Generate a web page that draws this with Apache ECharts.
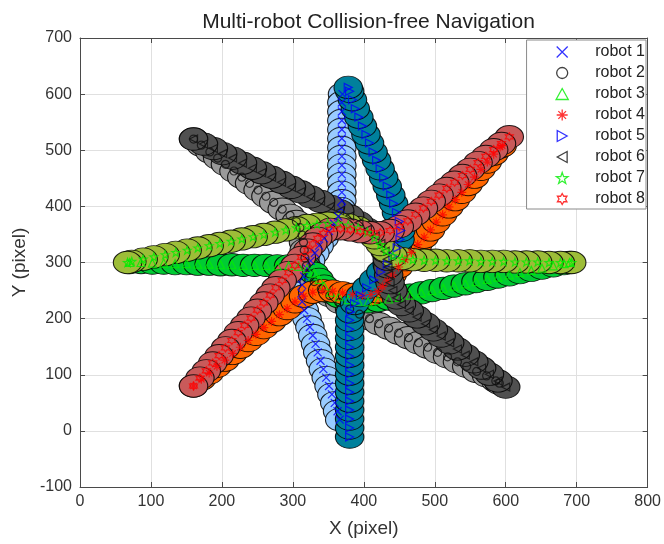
<!DOCTYPE html>
<html><head><meta charset="utf-8">
<script src="https://cdn.jsdelivr.net/npm/echarts@6/dist/echarts.min.js"></script>
<style>html,body{margin:0;padding:0;background:#fff}#c{width:664px;height:544px}</style>
</head><body><div id="c"></div>
<script>
const xTicks = [0, 100, 200, 300, 400, 500, 600, 700, 800];
const yTicks = [-100, 0, 100, 200, 300, 400, 500, 600, 700];
const robotNames = ['robot 1', 'robot 2', 'robot 3', 'robot 4', 'robot 5', 'robot 6', 'robot 7', 'robot 8'];
const robotRadius = 20;

const robot1 = [[370,600],[369,585],[369,569],[369,553],[369,537],[369,521],[369,505],[369,489],[369,473],[369,457],[369,441],[369,425],[369,410],[368,396],[364,382],[358,369],[351,356],[344,343],[337,330],[331,317],[325,303],[320,289],[316,275],[313,260],[312,245],[313,230],[316,215],[320,200],[324,185],[328,170],[332,155],[335,140],[339,125],[343,110],[347,95],[351,80],[355,65],[359,50],[363,35],[366,20]];
const robot2 = [[160,520],[171,509],[183,497],[194,486],[205,475],[217,463],[228,452],[239,441],[251,429],[262,418],[273,407],[285,395],[296,384],[305,373],[310,362],[313,349],[315,336],[316,322],[317,308],[319,294],[323,280],[330,266],[340,253],[352,241],[366,229],[380,217],[394,208],[408,200],[421,191],[435,183],[449,174],[463,166],[477,157],[490,149],[504,140],[518,132],[532,123],[545,115],[559,106],[573,98],[586,89],[591,85]];
const robot3 = [[70,300],[86,300],[102,299],[118,299],[134,298],[150,298],[166,297],[182,297],[198,296],[214,296],[230,295],[246,295],[262,295],[278,294],[294,294],[308,293],[320,289],[330,281],[337,270],[344,258],[353,247],[365,239],[378,234],[392,231],[406,230],[420,232],[435,235],[450,238],[465,242],[481,246],[496,250],[512,254],[527,258],[543,262],[558,266],[574,270],[589,274],[605,278],[620,282],[636,286],[651,290],[667,294],[682,298],[690,300]];
const robot4 = [[160,80],[171,92],[182,103],[193,115],[204,126],[215,138],[226,149],[237,161],[248,172],[259,184],[270,195],[281,207],[292,218],[303,230],[315,240],[328,247],[342,250],[356,249],[370,246],[384,243],[398,241],[410,243],[419,248],[426,257],[433,267],[440,278],[449,292],[458,305],[467,318],[476,332],[485,345],[494,358],[502,372],[511,385],[520,399],[529,412],[538,425],[547,439],[556,452],[565,466],[574,479],[583,493],[592,506],[595,508]];
const robot5 = [[380,-11],[380,5],[380,21],[380,37],[380,53],[380,69],[380,85],[380,101],[380,117],[380,133],[380,149],[380,165],[380,181],[380,197],[381,212],[387,227],[395,241],[404,255],[414,269],[424,283],[433,297],[441,311],[447,326],[451,341],[452,357],[450,373],[446,389],[442,405],[438,420],[433,436],[428,451],[423,467],[418,482],[413,497],[408,513],[403,528],[398,543],[393,559],[388,574],[384,590],[380,605],[378,612]];
const robot6 = [[600,78],[589,89],[577,101],[566,112],[555,123],[543,135],[532,146],[521,157],[509,169],[498,180],[487,191],[475,203],[464,214],[453,225],[446,237],[441,250],[437,264],[435,278],[434,292],[433,306],[430,320],[424,334],[416,347],[405,359],[393,371],[380,383],[366,392],[353,400],[339,409],[325,417],[311,426],[298,434],[284,443],[270,452],[256,460],[243,468],[229,477],[215,486],[201,494],[188,503],[174,511],[160,520]];
const robot7 = [[693,300],[677,300],[661,300],[645,301],[629,301],[613,301],[597,302],[581,302],[565,302],[549,303],[533,303],[517,303],[501,304],[485,304],[469,305],[454,307],[441,312],[431,321],[423,332],[415,344],[405,354],[392,362],[378,367],[364,370],[349,370],[334,368],[320,366],[305,362],[290,358],[275,354],[259,350],[244,346],[228,342],[213,338],[197,334],[182,330],[166,326],[151,322],[135,318],[120,314],[104,310],[89,306],[73,302],[67,300]];
const robot8 = [[605,524],[594,512],[583,501],[572,489],[561,478],[550,466],[539,455],[528,443],[517,432],[506,420],[495,409],[484,397],[473,386],[462,374],[450,364],[437,357],[423,353],[409,353],[395,355],[381,358],[367,360],[353,359],[343,352],[335,343],[328,333],[321,322],[312,309],[303,295],[294,282],[285,268],[276,255],[268,242],[259,228],[250,215],[241,201],[232,188],[223,175],[214,161],[205,148],[196,134],[187,121],[178,107],[169,94],[160,80]];
const robotPaths = [robot1, robot2, robot3, robot4, robot5, robot6, robot7, robot8];

const bodyColors = ['#99ccff', '#9a9a9a', '#00cc33', '#ff6600', '#00809c', '#505050', '#9dbd38', '#c95a5a'];
const markerColors = ['#0000ff', '#111111', '#00ee00', '#ff0000', '#0000ff', '#111111', '#00ee00', '#ff0000'];
const markerSymbols = [
  'path://M0,0L10,10M10,0L0,10',
  'circle',
  'path://M5,0L10,9L0,9Z',
  'path://M5,0L5,10M0,5L10,5M1.5,1.5L8.5,8.5M8.5,1.5L1.5,8.5',
  'path://M0,0L9,5L0,10Z',
  'path://M9,0L0,5L9,10Z',
  'path://M5,0L6.18,3.38L9.76,3.45L6.9,5.62L7.94,9.05L5,7L2.06,9.05L3.1,5.62L0.24,3.45L3.82,3.38Z',
  'path://M5,0L6.44,2.5L9.33,2.5L7.89,5L9.33,7.5L6.44,7.5L5,10L3.56,7.5L0.67,7.5L2.11,5L0.67,2.5L3.56,2.5Z'
];
const markerSizes = [8, 8, 8, 9, 8, 8, 8, 8];

const FONT = '"Liberation Sans", Arial, Helvetica, sans-serif';
const W = 664, H = 544;
const gridL = 80, gridR = 15, gridT = 38, gridB = 57;
const plotW = W - gridL - gridR, plotH = H - gridT - gridB;
const xMin = xTicks[0], xMax = xTicks[xTicks.length - 1];
const yMin = yTicks[0], yMax = yTicks[yTicks.length - 1];
const sx = plotW / (xMax - xMin), sy = plotH / (yMax - yMin);
const bodySize = [2 * robotRadius * sx, 2 * robotRadius * sy];

const axisColor = '#4a4a4a';
function mkX(pos, main) {
  return {
    type: 'value', min: xMin, max: xMax, interval: xTicks[1] - xTicks[0], position: pos,
    axisLine: { show: true, onZero: false, lineStyle: { color: axisColor, width: 1 } },
    axisTick: { show: true, inside: true, length: 5, lineStyle: { color: axisColor } },
    axisLabel: { show: main, color: '#333', fontSize: 16, margin: 7, fontFamily: FONT },
    splitLine: { show: main, lineStyle: { color: '#e0e0e0', width: 1 } },
    name: main ? 'X (pixel)' : '', nameLocation: 'middle', nameGap: 32,
    nameTextStyle: { fontSize: 19, color: '#333', fontFamily: FONT }
  };
}
function mkY(pos, main) {
  return {
    type: 'value', min: yMin, max: yMax, interval: yTicks[1] - yTicks[0], position: pos,
    axisLine: { show: true, onZero: false, lineStyle: { color: axisColor, width: 1 } },
    axisTick: { show: true, inside: true, length: 5, lineStyle: { color: axisColor } },
    axisLabel: { show: main, color: '#333', fontSize: 16, margin: 8, fontFamily: FONT },
    splitLine: { show: main, lineStyle: { color: '#e0e0e0', width: 1 } },
    name: main ? 'Y (pixel)' : '', nameLocation: 'middle', nameGap: 45, nameRotate: 90,
    nameTextStyle: { fontSize: 19, color: '#333', fontFamily: FONT }
  };
}

const series = [];
robotPaths.forEach((p, i) => {
  series.push({
    type: 'scatter', name: robotNames[i] + ' body', data: p, symbol: 'circle', symbolSize: bodySize,
    xAxisIndex: 0, yAxisIndex: 0, z: 2, silent: true,
    itemStyle: { color: bodyColors[i], borderColor: 'rgba(0,0,0,0.85)', borderWidth: 1, opacity: 1 }
  });
});
robotPaths.forEach((p, i) => {
  series.push({
    type: 'scatter', name: robotNames[i], data: p, symbol: markerSymbols[i], symbolSize: markerSizes[i],
    xAxisIndex: 0, yAxisIndex: 0, z: 3, silent: true,
    itemStyle: { color: 'none', borderColor: markerColors[i], borderWidth: 1.2 }
  });
});

const chart = echarts.init(document.getElementById('c'), null, { renderer: 'canvas', width: W, height: H });
chart.setOption({
  animation: false,
  backgroundColor: '#fff',
  title: {
    text: 'Multi-robot Collision-free Navigation', left: gridL + plotW / 2 - 1, textAlign: 'center', top: 7,
    textStyle: { fontSize: 21, fontWeight: 'normal', color: '#222', fontFamily: FONT }
  },
  grid: { left: gridL, right: gridR, top: gridT, bottom: gridB, containLabel: false },
  xAxis: [mkX('bottom', true), mkX('top', false)],
  yAxis: [mkY('left', true), mkY('right', false)],
  legend: {
    orient: 'vertical', right: 18, top: 40, align: 'left', selectedMode: false,
    itemWidth: 56, itemHeight: 11, itemGap: 5, padding: [4, 1, 2, 27],
    borderColor: '#8a8a8a', borderWidth: 1, backgroundColor: '#fff',
    textStyle: { fontSize: 16, color: '#222', fontFamily: FONT },
    data: robotNames.map((n, i) => ({
      name: n, icon: markerSymbols[i],
      itemStyle: { color: 'none', borderColor: markerColors[i], borderWidth: 1.3 }
    }))
  },
  series: series
});
</script>
</body></html>
